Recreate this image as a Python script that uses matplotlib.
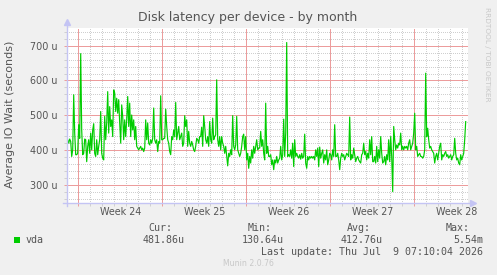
import numpy as np
import matplotlib
matplotlib.use('Agg')
import matplotlib.pyplot as plt
from matplotlib.lines import Line2D

# vda IO wait, in microseconds, one value every 2 hours
vda_parte1 = [439, 430, 420, 432, 425, 382, 401, 559, 449, 387,
              387, 391, 473, 434, 677, 458, 387, 391, 432, 430,
              367, 411, 430, 391, 449, 401, 458, 476, 391, 382,
              430, 387, 411, 430, 511, 391, 377, 372, 497, 430,
              478, 568, 449, 525, 468, 487, 439, 573, 564, 511,
              549, 506, 545, 478, 420, 530, 497, 430, 487, 439,
              487, 554, 468, 535, 439, 501, 458, 487, 430, 468,
              411, 406, 401, 406, 411, 401, 406, 396, 406, 487,
              430, 478, 420, 415, 430, 420, 434, 521, 430, 420,
              430, 396, 425, 420, 556, 430, 430, 434, 434, 518]
vda_parte2 = [468, 430, 420, 396, 387, 439, 430, 458, 439, 537,
              430, 449, 468, 430, 439, 449, 411, 420, 499, 468,
              487, 411, 454, 420, 411, 425, 415, 401, 396, 411,
              434, 430, 420, 439, 439, 466, 411, 499, 468, 430,
              420, 439, 411, 482, 430, 420, 492, 430, 439, 444,
              602, 430, 411, 439, 401, 439, 420, 411, 391, 411,
              382, 355, 391, 382, 401, 387, 499, 411, 401, 415,
              497, 401, 391, 382, 391, 411, 439, 446, 401, 439,
              372, 391, 348, 382, 363, 401, 377, 411, 391, 411,
              430, 401, 406, 406, 454, 411, 430, 391, 372, 535]
vda_parte3 = [391, 411, 382, 382, 387, 358, 372, 344, 372, 363,
              382, 363, 372, 377, 411, 372, 387, 489, 382, 449,
              709, 382, 387, 382, 401, 377, 420, 353, 430, 382,
              391, 382, 377, 387, 374, 391, 377, 382, 446, 363,
              348, 382, 372, 382, 377, 382, 377, 382, 372, 401,
              382, 406, 353, 409, 377, 391, 401, 363, 387, 372,
              401, 358, 372, 391, 387, 372, 401, 382, 473, 382,
              382, 391, 372, 344, 377, 391, 382, 387, 372, 382,
              391, 387, 382, 495, 372, 387, 377, 406, 387, 367,
              377, 382, 372, 367, 363, 387, 391, 420, 387, 396,
              372]
vda_parte4 = [391, 377, 430, 387, 439, 367, 367, 382, 363, 411,
              367, 401, 377, 439, 391, 363, 367, 382, 358, 387,
              372, 430, 367, 439, 382, 281, 468, 430, 401, 415,
              406, 420, 415, 449, 401, 411, 401, 411, 406, 411,
              401, 420, 430, 401, 411, 420, 449, 506, 401, 411,
              382, 387, 391, 382, 382, 377, 382, 401, 621, 439,
              463, 430, 406, 411, 401, 396, 391, 363, 382, 391,
              372, 391, 411, 420, 372, 387, 382, 391, 396, 382,
              387, 377, 382, 387, 372, 382, 387, 434, 391, 372,
              377, 363, 358, 387, 372, 382, 391, 430, 482]

semanas = ['Week 24', 'Week 25', 'Week 26', 'Week 27', 'Week 28']
inicio_semana = 23.2  # hours from the left edge to the start of Week 24

cur_txt = '481.86u'
min_txt = '130.64u'
avg_txt = '412.76u'
max_txt = '5.54m'
ultima = 'Last update: Thu Jul  9 07:10:04 2026'

vda = np.array(vda_parte1 + vda_parte2 + vda_parte3 + vda_parte4)
horas = np.arange(len(vda)) * 2

W, H = 497, 275


def px(x, y):
    return x / W, 1 - y / H


cor_texto = '#555555'
cor_eixo = '#c4c4f4'
cor_grade = '#cfcfcf'
cor_grade_maior = '#ec9c9c'

fig = plt.figure(figsize=(W / 100, H / 100), dpi=100, facecolor='#f0f0f0')
ax = fig.add_axes([66.7 / W, 1 - 203.3 / H, 401 / W, (203.3 - 27.7) / H])
ax.set_facecolor('white')

ax.set_xlim(0, 802)
ax.set_ylim(247.5, 751.5)

inicios = inicio_semana + 168 * np.arange(len(semanas))
dias = [inicio_semana + 24 * k for k in range(-1, 34) if k % 7 != 0]
dias = [d for d in dias if 0 < d < 802]
ax.set_xticks(inicios)
ax.set_xticklabels([])
ax.set_xticks(dias, minor=True)
ax.set_yticks(np.arange(300, 701, 100))
ax.set_yticklabels(['%d u' % v for v in range(300, 701, 100)])
ax.set_yticks([v for v in range(260, 741, 20) if v % 100 != 0], minor=True)

ax.grid(which='minor', color=cor_grade, linestyle=(0, (1, 2)), linewidth=0.72,
        antialiased=False)
ax.grid(which='major', color=cor_grade_maior, linestyle=(0, (1, 1)), linewidth=0.72,
        antialiased=False)
ax.set_axisbelow(True)

ax.tick_params(axis='x', which='major', length=2.5, width=0.7, color=cor_grade_maior)
ax.tick_params(axis='x', which='minor', length=2.5, width=0.7, color=cor_grade)
ax.tick_params(axis='y', which='major', length=2.5, width=0.7, color=cor_grade_maior,
               labelsize=6.9, labelcolor=cor_texto, pad=4)
ax.tick_params(axis='y', which='minor', length=2.5, width=0.7, color=cor_grade)

for sp in ax.spines.values():
    sp.set_visible(False)

ax.plot(horas, vda, color='#00cc00', linewidth=0.85)

for i, nome in enumerate(semanas):
    ax.text(inicios[i] + 84, -0.05, nome, transform=ax.get_xaxis_transform(),
            ha='center', va='center', fontsize=6.9, color=cor_texto)

# axis lines with the little arrows
ax.add_line(Line2D([0, 0], [-0.015, 1.025], transform=ax.transAxes, color=cor_eixo,
                   linewidth=1, clip_on=False))
ax.add_line(Line2D([-0.008, 1.01], [0, 0], transform=ax.transAxes, color=cor_eixo,
                   linewidth=1, clip_on=False))
ax.plot([0], [1.03], marker='^', markersize=4, color=cor_eixo, transform=ax.transAxes,
        clip_on=False)
ax.plot([1.012], [0], marker='>', markersize=4, color=cor_eixo, transform=ax.transAxes,
        clip_on=False)

fig.text(*px(247.5, 18), 'Disk latency per device - by month', ha='center', va='center',
         fontsize=9, color=cor_texto)
fig.text(*px(10.5, 114), 'Average IO Wait (seconds)', ha='center', va='center',
         rotation=90, fontsize=8, color=cor_texto)
fig.text(*px(487.5, 54), 'RRDTOOL / TOBI OETIKER', ha='center', va='center',
         rotation=270, fontsize=5.3, color='#c8c8c8')

mono = 'DejaVu Sans Mono'
fs = 7.2
fig.patches.append(plt.Rectangle(px(14, 242.5), 6 / W, 6 / H, transform=fig.transFigure,
                                 facecolor='#00cc00', edgecolor='none'))
fig.text(*px(26, 240), 'vda', ha='left', va='center', family=mono, fontsize=fs, color=cor_texto)
cabecalhos = [('Cur:', 172), ('Min:', 272), ('Avg:', 371), ('Max:', 470)]
for rot, xr in cabecalhos:
    fig.text(*px(xr, 228), rot, ha='right', va='center', family=mono, fontsize=fs, color=cor_texto)
for val, xr in [(cur_txt, 185), (min_txt, 284), (avg_txt, 383), (max_txt, 483)]:
    fig.text(*px(xr, 240), val, ha='right', va='center', family=mono, fontsize=fs, color=cor_texto)
fig.text(*px(483, 252), ultima, ha='right', va='center', family=mono, fontsize=fs, color=cor_texto)
fig.text(*px(248, 264), 'Munin 2.0.76', ha='center', va='center', fontsize=5.6, color='#c8c8c8')

fig.savefig('out.png', dpi=100, facecolor=fig.get_facecolor())
